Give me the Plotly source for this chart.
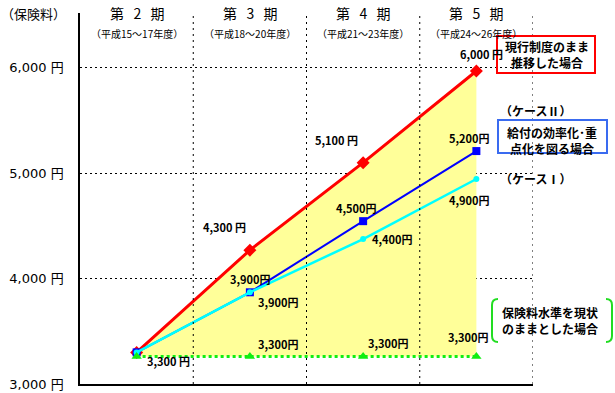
import plotly.graph_objects as go

# ---------------- data ----------------
periods = ["第&nbsp;&nbsp;&nbsp;2&nbsp;&nbsp;&nbsp;期", "第&nbsp;&nbsp;&nbsp;3&nbsp;&nbsp;&nbsp;期",
           "第&nbsp;&nbsp;&nbsp;4&nbsp;&nbsp;&nbsp;期", "第&nbsp;&nbsp;&nbsp;5&nbsp;&nbsp;&nbsp;期"]
period_years = ["（平成15～17年度）", "（平成18～20年度）", "（平成21～23年度）", "（平成24～26年度）"]
x_pos = [0.5, 1.5, 2.5, 3.5]  # category centres

current_system = [3300, 4270, 5100, 5970]   # 現行制度のまま推移した場合
case2 = [3300, 3870, 4545, 5210]            # ケースⅡ
case1 = [3300, 3870, 4375, 4945]            # ケースⅠ
flat_level = [3260, 3260, 3260, 3260]       # 保険料水準を現状のままとした場合

current_labels = ["3,300 円", "4,300 円", "5,100 円", "6,000 円"]
case2_labels = ["3,900円", "4,500円", "5,200円"]
case1_labels = ["3,900円", "4,400円", "4,900円"]
flat_labels = ["3,300円", "3,300円", "3,300円"]

y_ticks = [3000, 4000, 5000, 6000]
y_tick_text = ["3,000 円", "4,000 円", "5,000 円", "6,000 円"]

# ---------------- geometry helpers ----------------
W, H = 615, 393
L, R, T, B = 80, 533, 13, 384


def px(x):
    return (x - L) / (R - L)


def py(y):
    return (B - y) / (B - T)


JP = "Noto Sans CJK JP"
NUM = "DejaVu Sans, Noto Sans CJK JP"

fig = go.Figure()

# yellow fill between current-system line and flat line
fig.add_trace(go.Scatter(
    x=x_pos + x_pos[::-1], y=current_system + flat_level[::-1],
    fill="toself", fillcolor="#FFFF99", line=dict(width=0),
    mode="lines", hoverinfo="skip"))

fig.add_trace(go.Scatter(x=x_pos, y=current_system, mode="lines+markers",
                         line=dict(color="#FF0000", width=3),
                         marker=dict(symbol="diamond", size=10, color="#FF0000")))
fig.add_trace(go.Scatter(x=x_pos, y=case2, mode="lines+markers",
                         line=dict(color="#0000FF", width=2),
                         marker=dict(symbol="square", size=8, color="#0000FF")))
fig.add_trace(go.Scatter(x=x_pos, y=case1, mode="lines+markers",
                         line=dict(color="#00FFFF", width=2.5),
                         marker=dict(symbol="circle", size=6, color="#00FFFF")))
fig.add_trace(go.Scatter(x=x_pos, y=flat_level, mode="lines+markers",
                         line=dict(color="#11EE11", width=3, dash="3px,3px"),
                         marker=dict(symbol="triangle-up", size=9, color="#11EE11")))

shapes = []
# vertical dotted separators
for xv in [1, 2, 3, 4]:
    shapes.append(dict(type="line", xref="x", yref="paper", x0=xv, x1=xv, y0=0, y1=1,
                       line=dict(color="black", width=1, dash="2px,4px")))

# legend boxes
shapes.append(dict(type="rect", xref="paper", yref="paper",
                   x0=px(497), x1=px(595), y0=py(73), y1=py(36),
                   line=dict(color="#FF0000", width=2)))
shapes.append(dict(type="rect", xref="paper", yref="paper",
                   x0=px(498), x1=px(607), y0=py(153), y1=py(120),
                   line=dict(color="#3A6BF0", width=2)))


def bracket(xe, xi):
    return (f"M {px(xi)},{py(299)} Q {px(xe)},{py(299)} {px(xe)},{py(305)} "
            f"L {px(xe)},{py(336)} Q {px(xe)},{py(342)} {px(xi)},{py(342)}")


shapes.append(dict(type="path", xref="paper", yref="paper", path=bracket(492, 498),
                   line=dict(color="#22DD22", width=2)))
shapes.append(dict(type="path", xref="paper", yref="paper", path=bracket(612, 606),
                   line=dict(color="#22DD22", width=2)))

ann = []


def text(x, y, s, size=11, bold=True, family=JP, xanchor="center", color="black"):
    ann.append(dict(xref="paper", yref="paper", x=px(x), y=py(y), text=s,
                    showarrow=False, xanchor=xanchor, yanchor="middle",
                    font=dict(family=family, size=size, color=color,
                              weight="bold" if bold else "normal")))


# headers
col_px = [137, 250, 363, 476]
for cx, p, yrs in zip(col_px, periods, period_years):
    text(cx, 13, p, size=14, bold=False)
    text(cx, 33, yrs, size=10, bold=False)
text(33, 13, "（保険料）", size=13, bold=False)

# data labels
for (lx, ly), s in zip([(168, 361), (224, 227), (336, 140), (481, 54)], current_labels):
    text(lx, ly, s)
for (lx, ly), s in zip([(250, 279), (356, 208), (469, 138)], case2_labels):
    text(lx, ly, s)
for (lx, ly), s in zip([(278, 302), (392, 239), (469, 200)], case1_labels):
    text(lx, ly, s)
for (lx, ly), s in zip([(278, 344), (388, 343), (468, 337)], flat_labels):
    text(lx, ly, s)

# legend texts
text(503, 55, "現行制度のまま<br>推移した場合", size=12, xanchor="left")
text(498, 110, "（ケースⅡ）", size=12, xanchor="left")
text(505, 140, "給付の効率化･重<br>点化を図る場合", size=12, xanchor="left")
text(498, 178, "（ケースⅠ）", size=12, xanchor="left")
text(500, 320, "保険料水準を現状<br>のままとした場合", size=12, xanchor="left")

fig.update_layout(
    width=W, height=H,
    margin=dict(l=L, r=W - R, t=T, b=H - B, autoexpand=False),
    paper_bgcolor="white", plot_bgcolor="white",
    showlegend=False,
    shapes=shapes, annotations=ann,
    xaxis=dict(range=[0, 4], showgrid=False, zeroline=False, showticklabels=False,
               showline=True, linecolor="black", linewidth=2, ticks=""),
    yaxis=dict(range=[3000, 6520], tickvals=y_ticks, ticktext=y_tick_text,
               showgrid=True, gridcolor="black", gridwidth=1, griddash="2px,3px",
               zeroline=False, showline=True, linecolor="black", linewidth=1.5,
               ticks="", ticklabelstandoff=12,
               tickfont=dict(family=NUM, size=13, color="black")),
)

fig.write_html("out.html", config={"displayModeBar": False},
               post_script="document.body.style.margin='0';")
